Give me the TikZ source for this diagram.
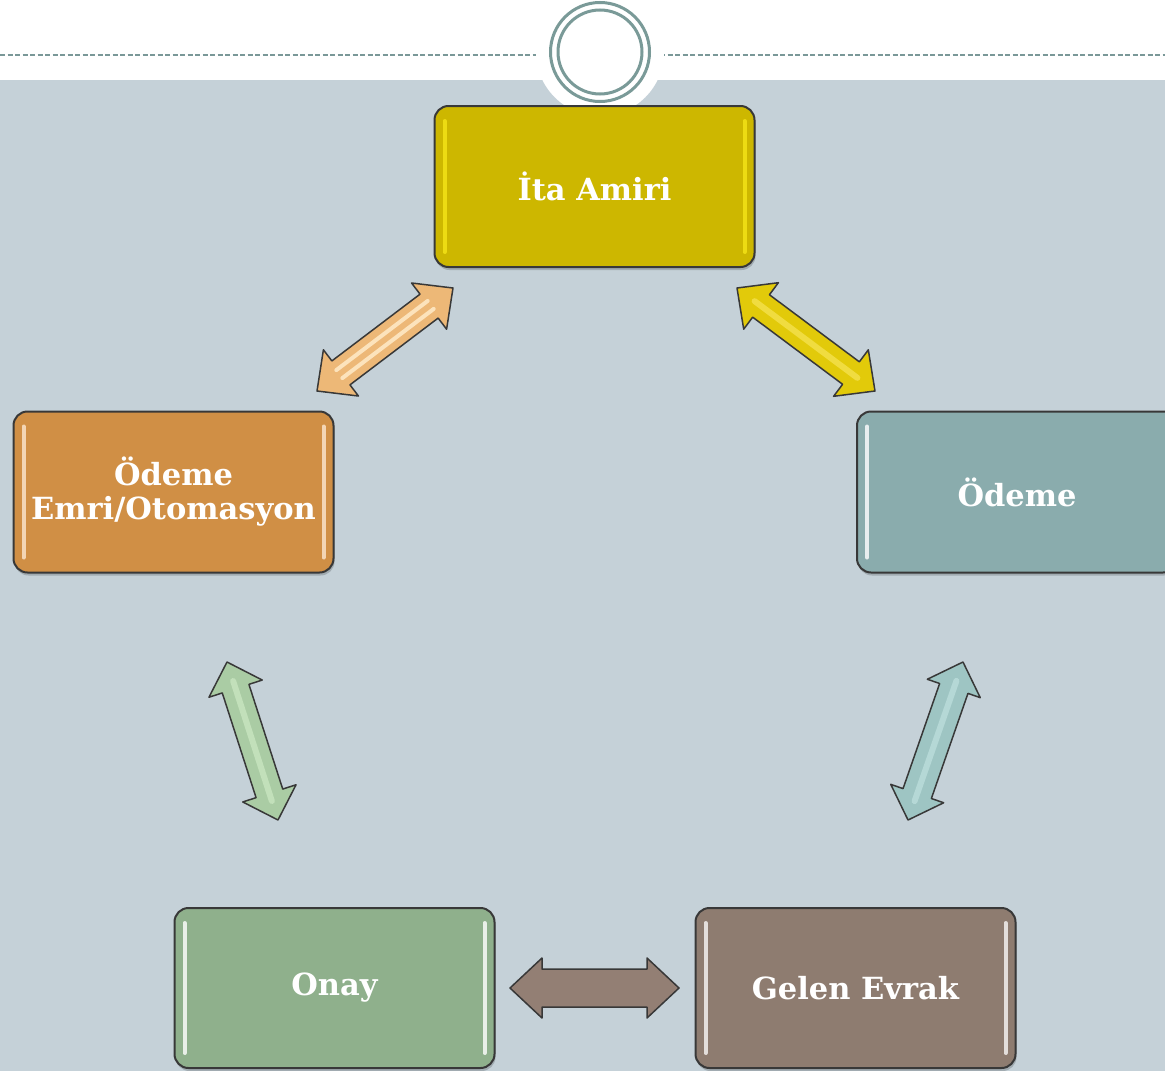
\documentclass[tikz,border=0pt]{standalone}
\usepackage{fontspec}
\setmainfont{DejaVu Serif}
\usetikzlibrary{calc,shadows}
\definecolor{bgray}{HTML}{C5D1D8}
\definecolor{ringc}{HTML}{7A9A98}
\definecolor{dashc}{HTML}{7A9898}
\definecolor{edgec}{HTML}{383838}
\definecolor{itac}{HTML}{CDB700}
\definecolor{orc}{HTML}{D08F45}
\definecolor{tealc}{HTML}{8AACAD}
\definecolor{grc}{HTML}{8FB08C}
\definecolor{brc}{HTML}{8E7C70}
\definecolor{arrOr}{HTML}{EDB877}
\definecolor{arrOrL}{HTML}{FCE3BC}
\definecolor{arrY}{HTML}{E2CA0A}
\definecolor{arrYL}{HTML}{F0DC40}
\definecolor{arrG}{HTML}{AACCA4}
\definecolor{arrGL}{HTML}{C2E0BA}
\definecolor{arrT}{HTML}{9EC5C3}
\definecolor{arrTL}{HTML}{B5D8D6}
\definecolor{arrB}{HTML}{937F74}
\newcommand\dblarrow[6]{%
  \path[#6] (#1) -- ($(#1)!#5!(#2)!#4!90:(#2)$) -- ($(#1)!#5!(#2)!#3!90:(#2)$)
    -- ($(#2)!#5!(#1)!#3!-90:(#1)$) -- ($(#2)!#5!(#1)!#4!-90:(#1)$) -- (#2)
    -- ($(#2)!#5!(#1)!#4!90:(#1)$) -- ($(#2)!#5!(#1)!#3!90:(#1)$)
    -- ($(#1)!#5!(#2)!#3!-90:(#2)$) -- ($(#1)!#5!(#2)!#4!-90:(#2)$) -- cycle;}
\newcommand\boxhl[2]{%
  \draw[#2, line width=4pt, line cap=round] ($(#1.north west)+(11,16)$) -- ($(#1.south west)+(11,-16)$);
  \draw[#2, line width=4pt, line cap=round] ($(#1.north east)+(-11,16)$) -- ($(#1.south east)+(-11,-16)$);}
\tikzset{
  boxst/.style={draw=edgec, line width=2pt, rounded corners=14pt, minimum width=320pt,
    minimum height=161pt, inner sep=0pt, text=white, align=center,
    font=\fontsize{30.5}{34}\selectfont\bfseries,
    general shadow={fill=black, opacity=0.18, shadow xshift=1pt, shadow yshift=-3pt}},
  arrst/.style={draw=edgec, line width=1.5pt, line join=round},
  stripe/.style={line width=#1, line cap=round}
}
\begin{document}
\begin{tikzpicture}[x=1pt,y=-1pt]
\useasboundingbox (0,0) rectangle (1165,1071);
\clip (0,0) rectangle (1165,1071);
\fill[white] (0,0) rectangle (1165,80);
\fill[bgray] (0,80) rectangle (1165,1071);
\draw[dashc, line width=1.4pt, dash pattern=on 5pt off 2.5pt] (0,55) -- (1165,55);
\fill[white] (600,52) circle[radius=64];
\draw[ringc, line width=3pt] (600,52) circle[radius=49.5];
\draw[ringc, line width=3pt] (600,52) circle[radius=42];

\node[boxst, fill=itac] (ita) at (594.5,186.5) {İta Amiri};
\node[boxst, fill=orc] (oem) at (173.5,492) {Ödeme\\Emri/Otomasyon};
\node[boxst, fill=tealc] (ode) at (1017,492) {Ödeme};
\node[boxst, fill=grc, minimum height=160pt] (onay) at (334.5,988) {Onay};
\node[boxst, fill=brc, minimum height=160pt] (gel) at (855.5,988) {Gelen Evrak};

\boxhl{ita}{yellow!60!itac}
\boxhl{oem}{orange!15!white!75!orc}
\boxhl{ode}{white!80!tealc}
\boxhl{onay}{white!80!grc}
\boxhl{gel}{white!75!brc}

\coordinate (o1) at (317,391); \coordinate (o2) at (453,288);
\coordinate (y1) at (737,288); \coordinate (y2) at (875,391);
\coordinate (g1) at (227,662); \coordinate (g2) at (278,820);
\coordinate (t1) at (963,662); \coordinate (t2) at (908,820);
\coordinate (b1) at (510,988); \coordinate (b2) at (679,988);

\dblarrow{o1}{o2}{15pt}{29pt}{30pt}{arrst, fill=arrOr}
\draw[arrOrL, stripe=4pt] ($(o1)!28pt!(o2)!5pt!90:(o2)$) -- ($(o2)!28pt!(o1)!5pt!-90:(o1)$);
\draw[arrOrL, stripe=4pt] ($(o1)!28pt!(o2)!5pt!-90:(o2)$) -- ($(o2)!28pt!(o1)!5pt!90:(o1)$);

\dblarrow{y1}{y2}{14pt}{29pt}{30pt}{arrst, fill=arrY}
\draw[arrYL, stripe=6pt] ($(y1)!22pt!(y2)$) -- ($(y2)!22pt!(y1)$);

\dblarrow{g1}{g2}{14pt}{28pt}{28pt}{arrst, fill=arrG}
\draw[arrGL, stripe=6pt] ($(g1)!20pt!(g2)$) -- ($(g2)!20pt!(g1)$);

\dblarrow{t1}{t2}{15pt}{28pt}{28pt}{arrst, fill=arrT}
\draw[arrTL, stripe=6pt] ($(t1)!20pt!(t2)$) -- ($(t2)!20pt!(t1)$);

\dblarrow{b1}{b2}{19pt}{30pt}{32pt}{arrst, fill=arrB}
\end{tikzpicture}
\end{document}
